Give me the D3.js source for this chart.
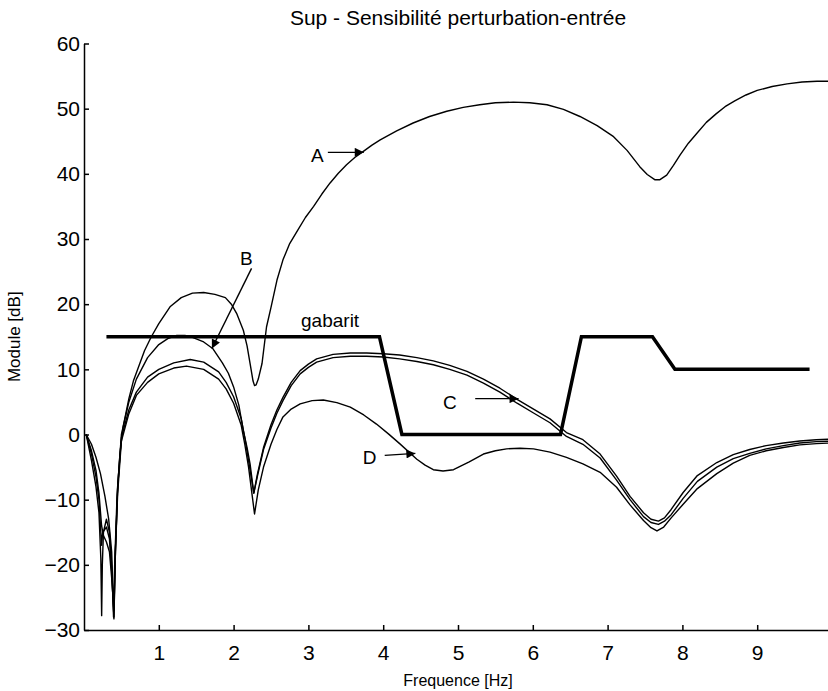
<!DOCTYPE html>
<html>
<head>
<meta charset="utf-8">
<script src="https://cdn.jsdelivr.net/npm/d3@7"></script>
<style>
  body { margin: 0; background: #fff; }
  text { font-family: "Liberation Sans", Arial, sans-serif; fill: #000; }
</style>
</head>
<body>
<div id="chart"></div>
<script>
// Canvas size
var width = 828, height = 691;

// Frequency [Hz] / module [dB] pairs
var curveA = [[0.03,0],[0.1,-4],[0.16,-8],[0.2,-12],[0.225,-19],[0.236,-27.8],[0.245,-20],[0.26,-15],[0.3,-13],[0.34,-15],[0.37,-20],[0.395,-28],[0.41,-20],[0.44,-10],[0.48,-3],[0.52,1],[0.6,5.5],[0.66,8.2],[0.73,10.4],[0.81,12.9],[0.9,15],[1.0,17],[1.15,19.6],[1.3,21],[1.45,21.7],[1.6,21.8],[1.75,21.5],[1.89,21],[1.97,20],[2.04,18.6],[2.13,16],[2.18,13.6],[2.22,10.9],[2.26,8.2],[2.28,7.5],[2.3,7.6],[2.33,8.5],[2.38,10.9],[2.44,16.5],[2.5,19.5],[2.58,23.7],[2.66,26.8],[2.75,29.3],[2.86,31.4],[2.96,33.3],[3.07,35],[3.18,36.9],[3.29,38.6],[3.4,40.1],[3.51,41.4],[3.62,42.5],[3.73,43.4],[3.85,44.4],[3.96,45.2],[4.18,46.6],[4.4,47.8],[4.62,48.8],[4.85,49.6],[5.07,50.2],[5.29,50.6],[5.5,50.9],[5.74,51.0],[5.96,50.9],[6.19,50.6],[6.41,49.9],[6.63,48.8],[6.86,47.4],[7.08,45.7],[7.26,43.6],[7.43,41.1],[7.53,39.9],[7.63,39.1],[7.7,39.1],[7.79,39.8],[7.88,41.3],[7.97,42.9],[8.08,44.7],[8.2,46.3],[8.32,47.9],[8.45,49.2],[8.57,50.3],[8.7,51.2],[8.85,52.1],[9.0,52.8],[9.2,53.4],[9.4,53.8],[9.6,54.1],[9.8,54.2],[10,54.2]];

var curveB = [[0.03,0],[0.1,-3],[0.16,-6.5],[0.2,-10],[0.235,-17],[0.25,-15],[0.3,-14.2],[0.34,-16],[0.37,-21],[0.4,-28],[0.42,-18],[0.45,-8],[0.5,0],[0.6,5],[0.7,8.5],[0.85,11.8],[1.0,13.8],[1.12,14.7],[1.24,15.2],[1.35,15.2],[1.45,14.9],[1.6,14.2],[1.72,13.2],[1.85,11],[1.93,9.4],[2.0,7.3],[2.07,4.5],[2.13,0.6],[2.18,-2],[2.22,-4.5],[2.27,-9],[2.32,-6],[2.4,-2],[2.5,1.5],[2.58,3.8],[2.66,5.7],[2.77,8],[2.89,9.8],[3.0,10.8],[3.11,11.6],[3.33,12.3],[3.56,12.5],[3.78,12.5],[4.0,12.4],[4.22,12.2],[4.45,11.8],[4.67,11.3],[4.89,10.6],[5.12,9.7],[5.34,8.5],[5.56,7.1],[5.79,5.4],[6.01,3.9],[6.23,2.4],[6.45,0.3],[6.67,-0.8],[6.9,-3],[7.12,-6.4],[7.3,-9.5],[7.48,-12],[7.58,-13],[7.68,-13.3],[7.76,-12.8],[7.85,-11.5],[8.01,-8.9],[8.2,-6.3],[8.46,-4.3],[8.68,-3.1],[8.9,-2.3],[9.12,-1.7],[9.35,-1.3],[9.57,-1],[9.79,-0.8],[10,-0.7]];

var curveC = [[0.03,0],[0.1,-2.5],[0.16,-5.5],[0.2,-9],[0.235,-14],[0.26,-15.5],[0.3,-16.5],[0.34,-18],[0.37,-22],[0.4,-27],[0.42,-18],[0.45,-8],[0.5,-0.5],[0.6,3.8],[0.7,6.5],[0.85,8.8],[1.0,10],[1.2,11],[1.42,11.5],[1.6,11.1],[1.8,9.6],[1.9,8],[2.0,5.8],[2.1,2.5],[2.15,-0.5],[2.2,-4],[2.27,-9],[2.32,-6.3],[2.4,-2.3],[2.5,1],[2.58,3.3],[2.66,5.2],[2.77,7.5],[2.89,9.3],[3.0,10.3],[3.11,11.1],[3.33,11.8],[3.56,12.0],[3.78,12.0],[4.0,11.9],[4.22,11.6],[4.45,11.2],[4.67,10.7],[4.89,10],[5.12,9.1],[5.34,7.9],[5.56,6.5],[5.79,4.8],[6.01,3.3],[6.23,1.8],[6.45,-0.3],[6.67,-1.5],[6.9,-3.6],[7.12,-7],[7.3,-10],[7.48,-12.6],[7.58,-13.5],[7.68,-13.8],[7.76,-13.3],[7.85,-12.3],[8.01,-9.8],[8.2,-7.2],[8.46,-5],[8.68,-3.7],[8.9,-2.9],[9.12,-2.2],[9.35,-1.7],[9.57,-1.3],[9.79,-1.1],[10,-1]];

var curveD = [[0.03,0],[0.1,-1.5],[0.16,-3.5],[0.22,-6],[0.28,-9.5],[0.33,-13],[0.37,-18],[0.4,-28.3],[0.42,-18],[0.45,-9],[0.5,-1],[0.6,3.2],[0.7,6],[0.85,8],[1.0,9.3],[1.2,10.2],[1.37,10.5],[1.6,10],[1.8,8.5],[1.9,7],[2.0,4.8],[2.1,1.5],[2.15,-1.5],[2.2,-5],[2.28,-12.2],[2.33,-8.5],[2.4,-5],[2.5,-1.5],[2.58,0.8],[2.66,2.7],[2.77,3.9],[2.89,4.7],[3.05,5.2],[3.2,5.3],[3.38,4.9],[3.56,4.2],[3.74,3],[3.91,1.6],[4.07,0.1],[4.22,-1.4],[4.45,-3.8],[4.56,-4.7],[4.67,-5.4],[4.8,-5.6],[4.94,-5.4],[5.15,-4.2],[5.34,-3],[5.5,-2.5],[5.65,-2.2],[5.83,-2.1],[6.01,-2.2],[6.23,-2.7],[6.45,-3.5],[6.67,-4.5],[6.9,-5.8],[7.12,-8.1],[7.3,-10.8],[7.48,-13.2],[7.58,-14.3],[7.66,-14.8],[7.75,-14.2],[7.85,-12.8],[8.01,-10.7],[8.2,-8.3],[8.46,-6],[8.68,-4.4],[8.9,-3.2],[9.12,-2.5],[9.35,-2],[9.57,-1.6],[9.79,-1.4],[10,-1.3]];

// Template (gabarit)
var gabaritFreq = [0.3, 3.95, 4.25, 6.37, 6.65, 7.6, 7.9, 9.7];
var gabaritDb   = [15, 15, 0, 0, 15, 15, 10, 10];

// Tick labels
var xTicks = [1, 2, 3, 4, 5, 6, 7, 8, 9];
var yTicks = [-30, -20, -10, 0, 10, 20, 30, 40, 50, 60];

// Annotations: label position and arrow (from -> to), in data units
var labels = [
  {text: "A", at: [3.12, 42.9], from: [3.26, 43.3], to: [3.74, 43.3]},
  {text: "B", at: [2.17, 27.1], from: [2.24, 25.5], to: [1.71, 13.2]},
  {text: "C", at: [4.89, 5.0], from: [5.23, 5.5], to: [5.81, 5.5]},
  {text: "D", at: [3.82, -3.5], from: [4.02, -3.2], to: [4.43, -2.9]},
  {text: "gabarit", at: [3.29, 17.5]}
];

var margin = {left: 84, top: 43.5, bottom: 61};

var x = d3.scaleLinear().domain([0, 10]).range([margin.left, margin.left + 748]);
var y = d3.scaleLinear().domain([-30, 60]).range([height - margin.bottom, margin.top]);

var svg = d3.select("#chart").append("svg")
    .attr("width", width)
    .attr("height", height);

// Title
svg.append("text")
    .attr("x", 458).attr("y", 25)
    .attr("text-anchor", "middle")
    .style("font-size", "21px")
    .text("Sup - Sensibilité perturbation-entrée");

// Axes, MATLAB style: ticks point inwards
var xAxis = d3.axisBottom(x).tickValues(xTicks).tickSizeInner(-5).tickSizeOuter(0).tickPadding(15);
var yAxis = d3.axisLeft(y).tickValues(yTicks).tickSizeInner(-5).tickSizeOuter(0).tickPadding(4);

var gx = svg.append("g")
    .attr("transform", "translate(0," + y(-30) + ")")
    .call(xAxis);
var gy = svg.append("g")
    .attr("transform", "translate(" + x(0) + ",0)")
    .call(yAxis);

[gx, gy].forEach(function(g) {
    g.select(".domain").attr("stroke", "#000").attr("stroke-width", 1.5);
    g.selectAll(".tick line").attr("stroke", "#000").attr("stroke-width", 1.5);
    g.selectAll(".tick text")
        .style("font-family", "'Liberation Sans', Arial, sans-serif")
        .style("font-size", "21px")
        .attr("fill", "#000");
});

// Axis labels
svg.append("text")
    .attr("x", 458).attr("y", 686)
    .attr("text-anchor", "middle")
    .style("font-size", "16px")
    .text("Frequence [Hz]");

svg.append("text")
    .attr("transform", "translate(20," + ((y(60) + y(-30)) / 2) + ") rotate(-90)")
    .attr("text-anchor", "middle")
    .style("font-size", "17px")
    .text("Module [dB]");

// Curves
var line = d3.line()
    .x(d => x(d[0]))
    .y(d => y(d[1]));

svg.selectAll(".curve")
    .data([curveA, curveB, curveC, curveD])
    .join("path")
    .attr("class", "curve")
    .attr("d", line)
    .attr("fill", "none")
    .attr("stroke", "#000")
    .attr("stroke-width", 1.4)
    .attr("stroke-linejoin", "round");

// Template line
var gabarit = gabaritFreq.map((f, i) => [f, gabaritDb[i]]);
svg.append("path")
    .attr("d", line(gabarit))
    .attr("fill", "none")
    .attr("stroke", "#000")
    .attr("stroke-width", 3.5);

// Arrowhead marker
svg.append("defs").append("marker")
    .attr("id", "head")
    .attr("viewBox", "0 0 10 10")
    .attr("refX", 10).attr("refY", 5)
    .attr("markerUnits", "userSpaceOnUse")
    .attr("markerWidth", 15).attr("markerHeight", 9)
    .attr("orient", "auto")
  .append("path")
    .attr("d", "M0,0L10,5L0,10Z")
    .attr("fill", "#000");

var ann = svg.selectAll(".ann")
    .data(labels)
    .join("g")
    .attr("class", "ann");

ann.filter(d => d.from)
  .append("line")
    .attr("x1", d => x(d.from[0])).attr("y1", d => y(d.from[1]))
    .attr("x2", d => x(d.to[0])).attr("y2", d => y(d.to[1]))
    .attr("stroke", "#000")
    .attr("stroke-width", 1.4)
    .attr("marker-end", "url(#head)");

ann.append("text")
    .attr("x", d => x(d.at[0]))
    .attr("y", d => y(d.at[1]))
    .attr("dy", "0.35em")
    .attr("text-anchor", "middle")
    .style("font-size", "19px")
    .text(d => d.text);
</script>
</body>
</html>
